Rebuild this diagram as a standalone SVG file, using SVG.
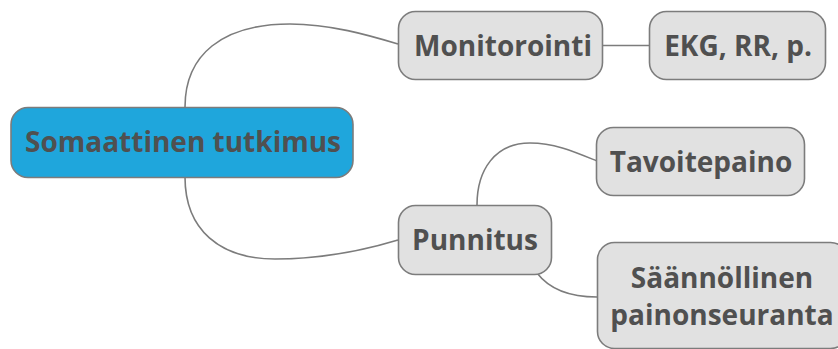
<svg xmlns="http://www.w3.org/2000/svg" width="838" height="349" viewBox="0 0 838 349">
<style>
.node rect{fill:#e1e1e1;stroke:#7c7c7c;stroke-width:1.6}
#root rect{fill:#1fa6dc}
text{font-family:"Open Sans","DejaVu Sans",sans-serif;font-weight:bold;font-size:28px;fill:#505050;text-anchor:middle}
#connectors path{fill:none;stroke:#7c7c7c;stroke-width:1.6}
</style>
<rect width="838" height="349" fill="#ffffff"/>
<g id="connectors">
<path d="M185,107 C185,55 222,24 290,24 C330,24 368,35 398,44"/>
<path d="M185,177 C185,230 220,259 275,259 C320,259 365,250 398,240"/>
<path d="M603,45.5 L649,45.5"/>
<path d="M477,205 C477,170 495,143 530,143 C555,143 575,152 597,161"/>
<path d="M537,273 C550,290 570,297 597,297"/>
</g>
<g id="root" class="node"><rect x="11" y="107.5" width="342" height="70" rx="17"/><text x="183" y="151.5">Somaattinen tutkimus</text></g>
<g id="monitorointi" class="node"><rect x="398.5" y="11.5" width="204" height="68" rx="17"/><text x="503" y="55.5">Monitorointi</text></g>
<g id="ekg" class="node"><rect x="649.5" y="11.5" width="176" height="68" rx="17"/><text x="738" y="55.5">EKG, RR, p.</text></g>
<g id="punnitus" class="node"><rect x="398.5" y="205.5" width="153" height="69" rx="17"/><text x="475" y="249.5">Punnitus</text></g>
<g id="tavoitepaino" class="node"><rect x="596.5" y="127.5" width="208" height="68" rx="17"/><text x="701" y="171.5">Tavoitepaino</text></g>
<g id="seuranta" class="node"><rect x="597.5" y="242.5" width="250" height="106" rx="17"/><text x="722" y="287.5">Säännöllinen</text><text x="722" y="324.5">painonseuranta</text></g>
</svg>
